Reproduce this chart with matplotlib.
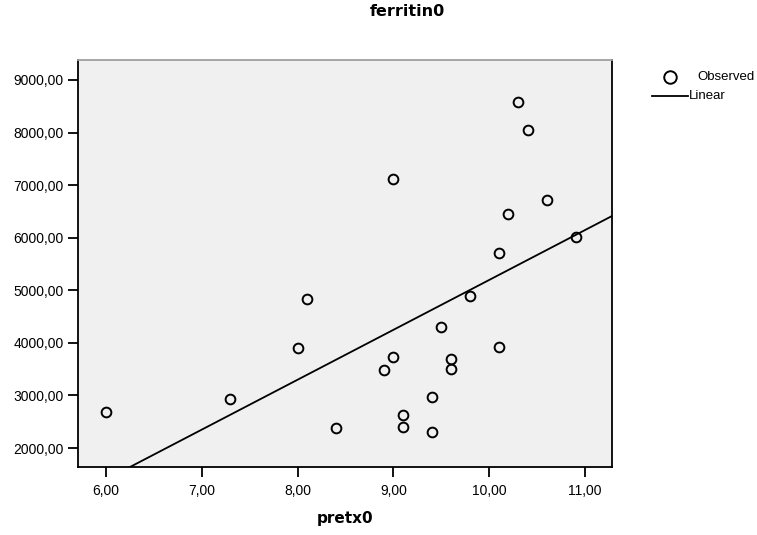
import numpy as np
import matplotlib
matplotlib.use("Agg")
import matplotlib.pyplot as plt
from matplotlib.lines import Line2D
from matplotlib.ticker import FuncFormatter

plt.rcParams['font.family'] = ['Liberation Sans', 'DejaVu Sans']

pretx0 = [6.0, 7.3, 8.0, 8.1, 8.4, 8.9, 9.0, 9.0, 9.1, 9.1, 9.4, 9.4, 9.5,
          9.6, 9.6, 9.8, 10.1, 10.1, 10.2, 10.3, 10.4, 10.6, 10.9]
ferritin0 = [2690, 2930, 3900, 4830, 2390, 3490, 3730, 7110, 2620, 2400, 2970, 2310, 4310,
             3690, 3510, 4900, 3930, 5700, 6450, 8590, 8040, 6710, 6010]
x_ticks = [6, 7, 8, 9, 10, 11]
y_ticks = [2000, 3000, 4000, 5000, 6000, 7000, 8000, 9000]

W, H = 757, 535
fig = plt.figure(figsize=(W/100, H/100), dpi=100)
ax = fig.add_axes([78/W, 1-467/H, (612-78)/W, (467-60)/H])
ax.set_facecolor('#f0f0f0')

ax.plot(pretx0, ferritin0, linestyle='none', marker='o', markersize=7,
        markerfacecolor='none', markeredgecolor='black', markeredgewidth=1.4, zorder=3)

slope, intercept = np.polyfit(pretx0, ferritin0, 1)
xlim = (5.71, 11.28)
ylim = (1639, 9380)
xs = np.array(xlim)
ax.plot(xs, slope*xs + intercept, color='black', linewidth=1.3, zorder=2)

ax.set_xlim(*xlim)
ax.set_ylim(*ylim)
ax.set_xticks(x_ticks)
ax.set_yticks(y_ticks)
fmt = FuncFormatter(lambda v, p: f"{v:.2f}".replace('.', ','))
ax.xaxis.set_major_formatter(fmt)
ax.yaxis.set_major_formatter(fmt)
ax.tick_params(axis='both', direction='out', length=7.5, width=1.3, labelsize=10, color='black')
ax.tick_params(axis='x', pad=5)
ax.tick_params(axis='y', pad=3)

for s in ['left', 'bottom', 'right']:
    ax.spines[s].set_color('black')
    ax.spines[s].set_linewidth(1.3)
ax.spines['top'].set_color('#a0a0a0')
ax.spines['top'].set_linewidth(1.3)

fig.text(345.5/W, 1-518/H, 'pretx0', fontsize=11, fontweight='bold', ha='center', va='center',
         family='DejaVu Sans')
fig.text(407/W, 1-12/H, 'ferritin0', fontsize=11.5, fontweight='bold', ha='center', va='center',
         family='DejaVu Sans')

# legend (drawn manually in figure pixels)
fig.add_artist(Line2D([670/W], [1-77/H], transform=fig.transFigure, linestyle='none', marker='o',
                      markersize=9, markerfacecolor='none', markeredgecolor='black', markeredgewidth=1.4))
fig.add_artist(Line2D([652/W, 688/W], [1-96/H, 1-96/H], transform=fig.transFigure,
                      color='black', linewidth=1.3))
fig.text(697/W, 1-77/H, 'Observed', fontsize=9.5, ha='left', va='center')
fig.text(689/W, 1-96/H, 'Linear', fontsize=9.5, ha='left', va='center')

fig.savefig('out.png', dpi=100)
